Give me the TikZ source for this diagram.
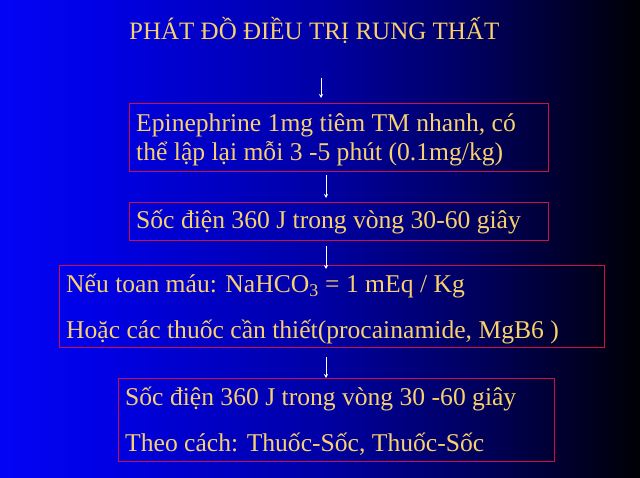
\documentclass[tikz,border=0pt]{standalone}
\usepackage{fontspec}
\setmainfont{Liberation Serif}
\usetikzlibrary{arrows.meta,calc}
\definecolor{txtgold}{RGB}{248,208,108}
\definecolor{boxred}{RGB}{205,15,70}
\definecolor{bgA}{RGB}{4,4,245}
\definecolor{bgB}{RGB}{0,0,228}
\definecolor{bgC}{RGB}{0,0,165}
\definecolor{bgD}{RGB}{0,0,95}
\definecolor{bgE}{RGB}{0,0,4}
\pgfdeclarehorizontalshading{slidebg}{100bp}{color(0bp)=(bgA); color(25bp)=(bgA); color(33bp)=(bgB); color(50bp)=(bgC); color(62bp)=(bgD); color(75bp)=(bgE); color(100bp)=(bgE)}
\tikzset{
  flowbox/.style={draw=boxred, line width=0.9pt, rectangle, inner sep=0pt, anchor=north west},
  bodytext/.style={text=txtgold, font=\fontsize{25.6}{30}\selectfont, anchor=base west, inner sep=0pt},
  titletext/.style={text=txtgold, font=\fontsize{25}{30}\selectfont, anchor=base west, inner sep=0pt},
  arr/.style={draw=white, line width=0.7pt, -{Stealth[length=4pt,width=4pt]}}
}
\begin{document}
\begin{tikzpicture}[x=1pt,y=-1pt]
\shade[shading=slidebg] (0,0) rectangle (640,478);
\useasboundingbox (0,0) rectangle (640,478);
% title
\node[titletext] (title) at (129,40) {PHÁT ĐỒ ĐIỀU TRỊ RUNG THẤT};
% boxes
\node[flowbox, minimum width=419pt, minimum height=68pt] (b1) at (129,103) {};
\node[flowbox, minimum width=419pt, minimum height=38pt] (b2) at (129,202) {};
\node[flowbox, minimum width=545pt, minimum height=82pt] (b3) at (59,265) {};
\node[flowbox, minimum width=436pt, minimum height=83pt] (b4) at (118,378) {};
% texts
\node[bodytext] (t1a) at (136,132) {Epinephrine 1mg tiêm TM nhanh, có};
\node[bodytext] (t1b) at (136,161) {thể lập lại mỗi 3 -5 phút (0.1mg/kg)};
\node[bodytext] (t2) at (136,229) {Sốc điện 360 J trong vòng 30-60 giây};
\node[bodytext] (t3a) at (66,293) {Nếu toan máu: NaHCO\textsubscript{3} = 1 mEq / Kg};
\node[bodytext] (t3b) at (66,338) {Hoặc các thuốc cần thiết(procainamide, MgB6 )};
\node[bodytext] (t4a) at (125,405) {Sốc điện 360 J trong vòng 30 -60 giây};
\node[bodytext] (t4b) at (125,451) {Theo cách: Thuốc-Sốc, Thuốc-Sốc};
% arrows
\coordinate (a0s) at (321,78);
\coordinate (ax) at (326,0);
\draw[arr] (a0s) -- ([yshift=5pt]b1.north -| a0s);
\draw[arr] ([yshift=-3pt]b1.south -| ax) -- ([yshift=4pt]b2.north -| ax);
\draw[arr] ([yshift=-5pt]b2.south -| ax) -- ([yshift=-4pt]b3.north -| ax);
\draw[arr] ([yshift=-9pt]b3.south -| ax) -- (b4.north -| ax);
\end{tikzpicture}
\end{document}
